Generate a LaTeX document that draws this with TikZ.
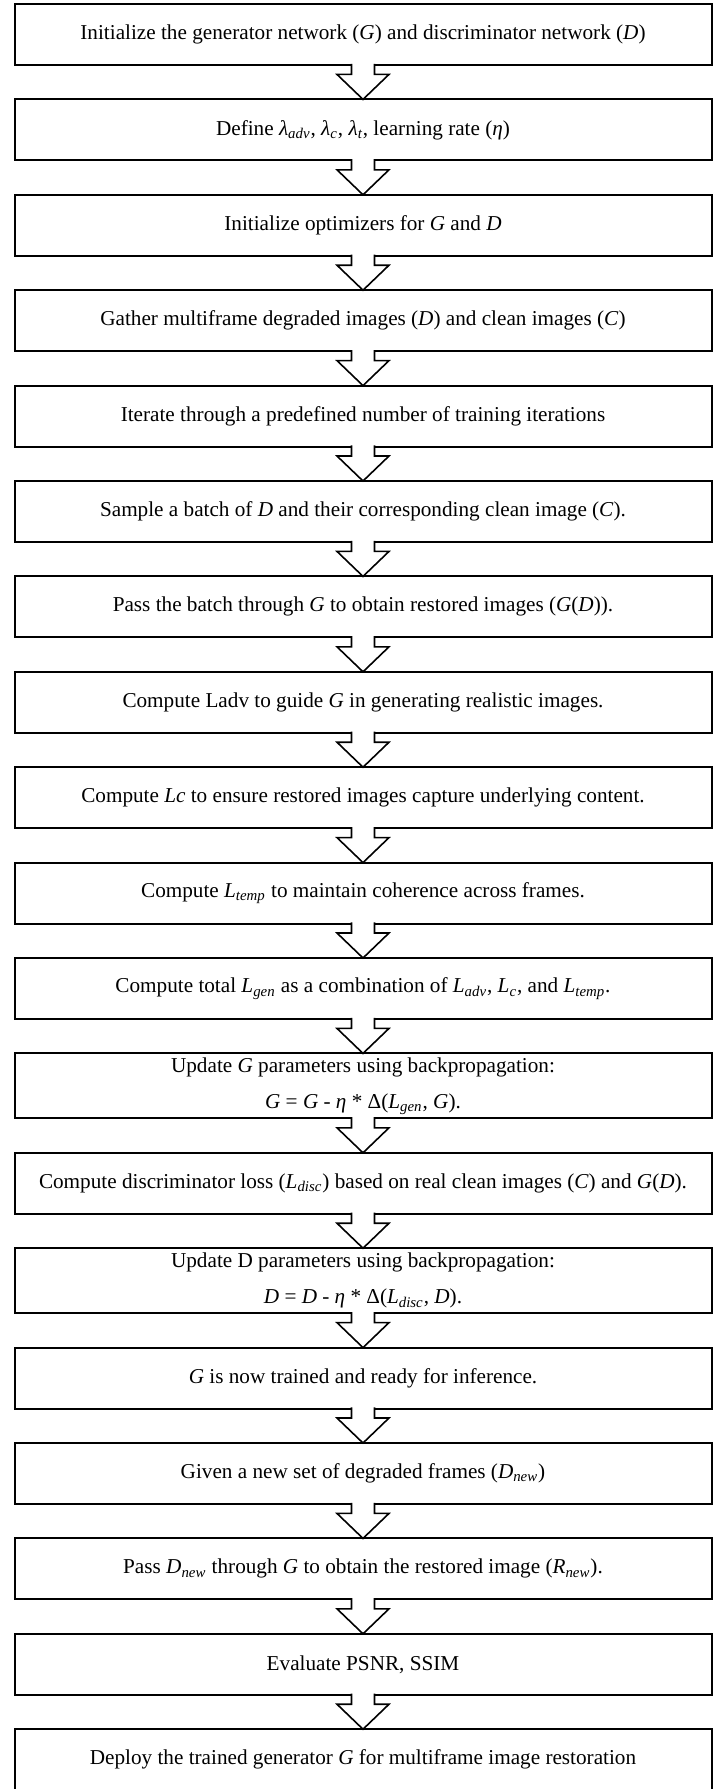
\documentclass[tikz,border=0pt]{standalone}
\usepackage{fontspec}
\setmainfont{Liberation Serif}
\usepackage{tikz}
\usetikzlibrary{positioning,calc}

\newcommand{\lsub}[1]{\textsubscript{\itshape #1}}
\newcommand{\vi}[1]{\textit{#1}}

\begin{document}
\begin{tikzpicture}[
    node distance=17.2pt,
    font=\fontsize{10.6}{17.5}\selectfont,
    stepbox/.style={draw, line width=1pt, minimum width=348.5pt, minimum height=30.5pt, align=center, inner sep=1pt, outer sep=0pt, fill=white},
    twostep/.style={stepbox, minimum height=32.5pt, font=\fontsize{10.6}{18}\selectfont},
    flow/.style={draw, fill=white, line width=0.8pt, line join=miter}
]
    \useasboundingbox (0,0) rectangle (361.5pt,-894.5pt);

    \node[stepbox] (s1) at (181.5pt,-17.25pt) {Initialize the generator network (\vi{G}) and discriminator network (\vi{D})};
    \node[stepbox, below=of s1] (s2) {Define \vi{λ}\lsub{adv}, \vi{λ}\lsub{c}, \vi{λ}\lsub{t}, learning rate (\vi{η})};
    \node[stepbox, below=of s2] (s3) {Initialize optimizers for \vi{G} and \vi{D}};
    \node[stepbox, below=of s3] (s4) {Gather multiframe degraded images (\vi{D}) and clean images (\vi{C})};
    \node[stepbox, below=of s4] (s5) {Iterate through a predefined number of training iterations};
    \node[stepbox, below=of s5] (s6) {Sample a batch of \vi{D} and their corresponding clean image (\vi{C}).};
    \node[stepbox, below=of s6] (s7) {Pass the batch through \vi{G} to obtain restored images (\vi{G}(\vi{D})).};
    \node[stepbox, below=of s7] (s8) {Compute Ladv to guide \vi{G} in generating realistic images.};
    \node[stepbox, below=of s8] (s9) {Compute \vi{Lc} to ensure restored images capture underlying content.};
    \node[stepbox, below=of s9] (s10) {Compute \vi{L}\lsub{temp} to maintain coherence across frames.};
    \node[stepbox, below=of s10] (s11) {Compute total \vi{L}\lsub{gen} as a combination of \vi{L}\lsub{adv}, \vi{L}\lsub{c}, and \vi{L}\lsub{temp}.};
    \node[twostep, below=of s11] (s12) {Update \vi{G} parameters using backpropagation:\\ \vi{G} = \vi{G} - \vi{η} * Δ(\vi{L}\lsub{gen}, \vi{G}).};
    \node[stepbox, below=of s12] (s13) {Compute discriminator loss (\vi{L}\lsub{disc}) based on real clean images (\vi{C}) and \vi{G}(\vi{D}).};
    \node[twostep, below=of s13] (s14) {Update D parameters using backpropagation:\\ \vi{D} = \vi{D} - \vi{η} * Δ(\vi{L}\lsub{disc}, \vi{D}).};
    \node[stepbox, below=of s14] (s15) {\vi{G} is now trained and ready for inference.};
    \node[stepbox, below=of s15] (s16) {Given a new set of degraded frames (\vi{D}\lsub{new})};
    \node[stepbox, below=of s16] (s17) {Pass \vi{D}\lsub{new} through \vi{G} to obtain the restored image (\vi{R}\lsub{new}).};
    \node[stepbox, below=of s17] (s18) {Evaluate PSNR, SSIM};
    \node[stepbox, below=of s18] (s19) {Deploy the trained generator \vi{G} for multiframe image restoration};

    \foreach \i [count=\j from 2] in {1,...,18}
        \filldraw[flow] let \p1=(s\i.south), \p2=(s\j.north) in
            (\x1-5.75pt,\y1+0.6pt) -- (\x1-5.75pt,\y2+12.5pt) -- (\x1-13pt,\y2+12.5pt) -- (\p2)
            -- (\x1+13pt,\y2+12.5pt) -- (\x1+5.75pt,\y2+12.5pt) -- (\x1+5.75pt,\y1+0.6pt);
\end{tikzpicture}
\end{document}
